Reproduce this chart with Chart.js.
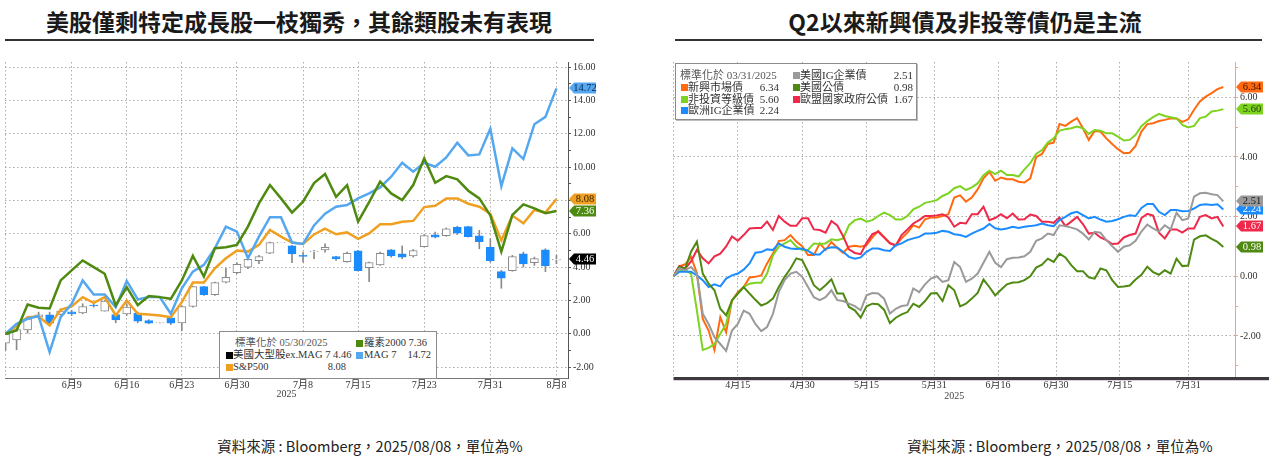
<!DOCTYPE html>
<html lang="zh-Hant">
<head>
<meta charset="utf-8">
<title>美股與債市表現</title>
<script src="https://cdn.jsdelivr.net/npm/chart.js@4.4.1/dist/chart.umd.min.js"></script>
<style>
  html, body { margin: 0; padding: 0; background: #fff; }
  body { position: relative; width: 1269px; height: 456px; overflow: hidden;
         font-family: "Noto Sans CJK TC", "Noto Sans", sans-serif; color: #222; }
  .title { position: absolute; top: 6px; font-size: 23px; font-weight: 700; color: #1a1a1a;
           white-space: nowrap; transform: translateX(-50%); line-height: 30px; }
  .rule { position: absolute; top: 39px; height: 1.5px; background: #333; }
  .src { position: absolute; top: 436px; font-size: 14.5px; color: #222; white-space: nowrap;
         transform: translateX(-50%); line-height: 20px; }
  canvas { position: absolute; }
  .lg { position: absolute; background: #fff; border: 1px solid #8c8c8c; box-sizing: border-box; z-index: 2;
        font-family: "Liberation Serif", "Noto Sans CJK TC", serif; font-size: 11px; color: #333; }
  .lg span { position: absolute; white-space: nowrap; line-height: 12px; }
  .lg i { position: absolute; width: 7px; height: 7px; }
</style>
</head>
<body>

<div class="title" style="left:299px">美股僅剩特定成長股一枝獨秀，其餘類股未有表現</div>
<div class="rule" style="left:5px;width:589px"></div>
<div class="title" style="left:965px">Q2以來新興債及非投等債仍是主流</div>
<div class="rule" style="left:675px;width:587px"></div>

<canvas id="cl" width="640" height="360" style="left:0;top:50px"></canvas>
<canvas id="cr" width="629" height="360" style="left:640px;top:50px"></canvas>

<div class="lg" style="left:219px;top:331px;width:218px;height:48px;font-size:10.5px">
  <span style="left:15px;top:5px;color:#555">標準化於 05/30/2025</span>
  <i style="left:136px;top:8px;background:#4f8a10"></i><span style="left:144px;top:5px">羅素2000 7.36</span>
  <i style="left:6px;top:20px;background:#000"></i><span style="left:13px;top:17px">美國大型股ex.MAG 7 4.46</span>
  <i style="left:136px;top:20px;background:#55a8f0"></i><span style="left:144px;top:17px">MAG 7</span>
  <span style="left:180px;top:17px;width:31px;text-align:right">14.72</span>
  <i style="left:6px;top:32px;background:#f0a020"></i><span style="left:13px;top:29px">S&amp;P500</span>
  <span style="left:96px;top:29px;width:30px;text-align:right">8.08</span>
</div>

<div class="lg" style="left:675px;top:63px;width:242px;height:57px;box-shadow:1px 1px 0 #bdbdbd">
  <span style="left:4px;top:5px;color:#555">標準化於 03/31/2025</span>
  <i style="left:117px;top:8px;background:#9a9a9a"></i><span style="left:124px;top:5px">美國IG企業債</span>
  <span style="left:200px;top:5px;width:37px;text-align:right">2.51</span>
  <i style="left:5px;top:20px;background:#ff6a10"></i><span style="left:12px;top:17px">新興市場債</span>
  <span style="left:70px;top:17px;width:33px;text-align:right">6.34</span>
  <i style="left:117px;top:20px;background:#4e8a12"></i><span style="left:124px;top:17px">美國公債</span>
  <span style="left:200px;top:17px;width:37px;text-align:right">0.98</span>
  <i style="left:5px;top:32px;background:#7ed321"></i><span style="left:12px;top:29px">非投資等級債</span>
  <span style="left:70px;top:29px;width:33px;text-align:right">5.60</span>
  <i style="left:117px;top:32px;background:#f0284a"></i><span style="left:124px;top:29px">歐盟國家政府公債</span>
  <span style="left:200px;top:29px;width:37px;text-align:right">1.67</span>
  <i style="left:5px;top:43px;background:#1a8cff"></i><span style="left:12px;top:40px">歐洲IG企業債</span>
  <span style="left:70px;top:40px;width:33px;text-align:right">2.24</span>
</div>

<div class="src" style="left:370px">資料來源 : Bloomberg，2025/08/08，單位為%</div>
<div class="src" style="left:1060px">資料來源 : Bloomberg，2025/08/08，單位為%</div>

<script>
// ---------- 左圖：美股，標準化於 05/30/2025，x = 交易日序號 (5/30 = 0 ... 8/8 = 50) ----------
const xTickPosL = [0, 6, 11, 16, 21, 27, 32, 38, 44, 50];
const xTickLabelsL = ['', '6月9', '6月16', '6月23', '6月30', '7月8', '7月15', '7月23', '7月31', '8月8'];
const yTicksL = [-2, -1, 0, 1, 2, 3, 4, 5, 6, 7, 8, 9, 10, 11, 12, 13, 14, 15, 16];

const russell2000 = [0, 0.2, 1.76, 1.56, 1.52, 3.2, 3.8, 4.4, 4.0, 3.6, 1.7, 2.8, 1.72, 2.26, 2.2, 2.1,
  3.2, 4.67, 3.43, 5.13, 5.19, 5.33, 6.43, 7.82, 8.92, 8.12, 7.27, 7.92, 9.04, 9.58, 8.22, 8.92, 6.73,
  7.9, 9.12, 8.42, 8.02, 8.92, 10.52, 9.06, 9.46, 9.26, 8.58, 8.12, 7.1, 4.93, 7.13, 7.76, 7.52, 7.23, 7.36];
const mag7 = [0, 0.6, 0.9, 1.06, -1.1, 1.0, 1.8, 3.2, 2.36, 2.36, 1.6, 3.16, 2.06, 2.2, 2.2, 1.2,
  2.73, 3.73, 4.13, 5.13, 6.43, 6.13, 4.53, 5.83, 6.99, 6.99, 5.47, 5.39, 6.5, 7.2, 7.62, 7.72, 8.12,
  8.42, 8.78, 9.42, 10.26, 9.72, 10.26, 10.02, 10.58, 11.46, 10.7, 10.76, 12.3, 8.86, 11.12, 10.48, 12.57, 13.01, 14.72];
const sp500 = [0, 0.45, 1.0, 1.04, 0.5, 1.44, 1.64, 2.2, 1.86, 2.2, 1.1, 2.0, 1.2, 1.16, 1.1, 1.0,
  1.9, 3.07, 3.07, 3.93, 4.53, 4.99, 4.93, 5.33, 6.23, 5.83, 5.47, 5.39, 5.96, 6.3, 5.97, 6.08, 5.7,
  6.02, 6.57, 6.57, 6.72, 6.77, 7.6, 7.68, 8.12, 8.12, 7.8, 7.62, 7.2, 5.6, 7.09, 6.63, 7.43, 7.27, 8.08];

// 美國大型股ex.MAG 7 K 線
const exOpen = [-0.56, -0.36, 0.24, 1.0, 1.14, 1.16, 1.32, 1.26, 1.72, 1.36, 1.16, 1.2, 1.24, 0.8, 0.65, 0.96,
  0.66, 1.64, 2.83, 2.34, 3.09, 3.67, 3.99, 4.39, 4.83, 5.46, 5.27, 4.7, 4.92, 5.03, 4.63, 4.33, 4.97,
  3.97, 4.13, 5.03, 4.79, 4.67, 5.23, 5.93, 5.89, 6.39, 6.43, 5.87, 5.19, 3.73, 3.79, 4.79, 4.27, 5.03, 4.43];
const exClose = [0, 0.26, 0.9, 1.14, 0.64, 1.36, 1.2, 1.64, 1.68, 1.96, 0.84, 1.6, 0.76, 0.64, 0.67, 0.64,
  1.64, 2.83, 2.34, 3.07, 3.39, 4.17, 4.47, 4.63, 5.47, 5.48, 4.79, 4.64, 4.96, 5.19, 4.49, 4.83, 3.79,
  4.27, 4.83, 4.67, 4.59, 4.99, 5.89, 5.79, 6.29, 6.03, 5.83, 5.53, 4.39, 3.33, 4.63, 4.19, 4.51, 4.07, 4.46];
const exLow = [-1.0, -0.96, 0.04, 0.9, 0.6, 1.1, 1.1, 1.2, 1.6, 1.36, 0.66, 1.1, 0.66, 0.6, 0.65, 0.55,
  0.2, 1.6, 2.3, 2.3, 3.05, 3.6, 3.9, 4.2, 4.8, 5.46, 4.27, 4.3, 4.5, 4.9, 4.4, 4.3, 3.75,
  3.13, 4.1, 4.6, 4.5, 4.6, 5.2, 5.75, 5.85, 5.95, 5.8, 5.1, 4.3, 2.73, 3.75, 4.0, 4.1, 3.73, 4.2];
const exHigh = [0.05, 0.3, 0.95, 1.3, 1.3, 1.5, 1.4, 1.8, 1.8, 2.0, 1.2, 1.8, 1.3, 0.85, 0.67, 1.0,
  1.7, 2.85, 2.85, 3.1, 3.93, 4.25, 4.5, 4.7, 5.5, 5.48, 5.3, 4.9, 5.0, 5.4, 4.65, 4.9, 5.0,
  4.3, 4.9, 5.05, 5.27, 5.05, 5.95, 6.1, 6.35, 6.45, 6.45, 6.2, 5.7, 3.8, 4.7, 4.9, 4.6, 5.1, 4.7];

// ---------- 右圖：債市，標準化於 03/31/2025，x = 工作日序號 (3/31 = 0 ... 8/8 = 94) ----------
const xTickPosR = [0, 11, 22, 33, 44.6, 55.5, 65.4, 76.3, 88];
const xTickLabelsR = ['', '4月15', '4月30', '5月15', '5月31', '6月16', '6月30', '7月15', '7月31'];
const yTicksR = [-3, -2, -1, 0, 1, 2, 3, 4, 5, 6, 7];

const emDebt = [0, 0.33, 0.4, 0.65, 0.1, -1.43, -1.82, -2.47, -1.37, -1.88,
  -0.81, -0.53, -0.36, -0.04, -0.02, 0.03, 0.43, 0.76, 1.18, 1.21,
  1.38, 1.16, 1.01, 0.71, 0.71, 1.1, 0.88, 1.15, 0.95, 0.78,
  0.99, 1.02, 0.99, 1.04, 1.3, 1.52, 1.32, 1.12, 1.04, 1.27,
  1.46, 1.71, 1.63, 1.91, 1.97, 1.97, 2.02, 2.08, 2.64, 2.71,
  2.5, 2.64, 2.91, 3.28, 3.5, 3.2, 3.31, 3.25, 3.25, 3.17,
  3.14, 3.28, 3.99, 4.1, 4.43, 4.48, 5.1, 5.04, 5.18, 5.3,
  4.96, 4.57, 4.87, 4.85, 4.62, 4.43, 4.26, 4.12, 4.14, 4.37,
  4.85, 5.1, 5.13, 5.2, 5.24, 5.29, 5.29, 5.17, 5.26, 5.58,
  5.86, 6.02, 6.14, 6.27, 6.34];
const hyDebt = [0, 0.17, 0.2, 0.09, -1.15, -2.47, -2.4, -2.27, -1.93, -1.6,
  -0.8, -0.58, -0.36, -0.25, -0.22, -0.22, 0.09, 0.7, 0.99, 1.1,
  1.21, 0.99, 0.88, 0.88, 1.1, 1.08, 1.1, 1.24, 1.21, 1.27,
  1.71, 1.88, 1.93, 1.83, 1.88, 2.02, 2.13, 2.05, 1.9, 1.9,
  2.02, 2.24, 2.33, 2.46, 2.5, 2.55, 2.69, 2.78, 2.95, 3.02,
  2.89, 2.98, 3.11, 3.39, 3.54, 3.42, 3.54, 3.39, 3.39, 3.34,
  3.58, 3.79, 4.1, 4.23, 4.48, 4.62, 4.88, 4.93, 4.96, 5.02,
  4.96, 4.77, 4.9, 4.88, 4.79, 4.79, 4.68, 4.55, 4.57, 4.74,
  5.03, 5.2, 5.33, 5.44, 5.37, 5.33, 5.29, 5.07, 4.99, 5.04,
  5.3, 5.35, 5.52, 5.55, 5.6];
const usIgDebt = [0, 0.26, 0.2, 0.31, 0.09, -1.26, -1.6, -2.04, -2.27, -2.5,
  -1.82, -1.6, -1.15, -1.26, -1.6, -1.84, -1.7, -1.26, -0.53, -0.13,
  0.09, 0.15, -0.02, -0.36, -0.7, -0.8, -0.7, -0.47, -0.8, -0.83,
  -0.92, -1.0, -1.14, -0.64, -0.56, -0.58, -0.75, -1.25, -1.09, -1.0,
  -0.97, -0.41, -0.53, -0.27, -0.08, 0.0, -0.19, -0.13, 0.48, 0.31,
  -0.19, -0.08, 0.09, 0.45, 0.82, 0.45, 0.31, 0.57, 0.62, 0.63,
  0.67, 0.82, 1.19, 1.27, 1.43, 1.38, 1.71, 1.68, 1.63, 1.57,
  1.43, 1.23, 1.49, 1.46, 1.21, 1.01, 0.82, 0.99, 1.04, 1.19,
  1.5, 1.73, 1.6, 1.5, 1.71, 1.57, 2.13, 1.88, 1.94, 2.67,
  2.78, 2.8, 2.75, 2.72, 2.51];
const usTreasury = [0, 0.31, 0.26, 0.82, 1.16, 0.09, -0.25, -0.47, -1.09, -1.31,
  -0.81, -0.58, -0.36, -0.58, -0.79, -0.98, -0.9, -0.75, -0.36, -0.02,
  0.26, 0.6, 0.54, 0.15, -0.3, -0.47, -0.3, -0.1, -0.58, -0.58,
  -1.03, -1.14, -1.39, -1.01, -0.92, -0.94, -1.12, -1.57, -1.39, -1.28,
  -1.2, -0.92, -1.03, -0.83, -0.58, -0.56, -0.83, -0.3, -0.47, -1.01,
  -0.92, -0.75, -0.56, -0.11, -0.36, -0.64, -0.45, -0.27, -0.21, -0.2,
  -0.13, 0, 0.29, 0.39, 0.59, 0.48, 0.76, 0.63, 0.37, 0.17,
  0.17, -0.04, -0.08, 0.26, 0.2, -0.13, -0.36, -0.34, -0.31, -0.11,
  0.05, 0.32, 0.14, 0.05, 0.2, 0.09, 0.59, 0.34, 0.36, 1.23,
  1.34, 1.37, 1.25, 1.15, 0.98];
const euGovDebt = [0, 0.34, 0.26, 0.5, 0.88, 0.6, 0.43, 0.67, 0.76, 1.0,
  1.33, 1.19, 1.38, 1.6, 1.62, 1.62, 1.83, 1.55, 2.02, 1.83,
  1.69, 1.69, 1.94, 1.94, 1.57, 1.55, 1.46, 1.85, 1.7, 1.34,
  0.9, 0.78, 0.74, 1.12, 1.41, 1.49, 1.3, 1.1, 1.03, 1.38,
  1.57, 1.77, 1.88, 2.02, 2.02, 2.04, 2.08, 1.97, 1.66, 1.79,
  1.77, 2.08, 2.08, 2.33, 1.88, 1.95, 2.08, 1.94, 2.1, 1.9,
  1.91, 2.07, 2.02, 1.83, 1.83, 1.79, 1.97, 1.68, 1.83, 1.99,
  1.75, 1.43, 1.46, 1.3, 1.21, 1.08, 1.1, 1.3, 1.38, 1.43,
  1.95, 2.09, 2.03, 1.46, 1.27, 1.57, 1.57, 1.46, 1.6, 1.6,
  1.99, 2.05, 1.94, 1.99, 1.67];
const euIgDebt = [0, 0.15, 0.15, 0.15, 0.03, -0.13, -0.36, -0.27, -0.34, -0.08,
  0.03, 0.09, 0.22, 0.43, 0.79, 0.81, 0.9, 0.88, 1.1, 0.99,
  0.93, 0.91, 0.93, 0.85, 0.73, 0.73, 0.92, 0.97, 0.96, 0.82,
  0.65, 0.59, 0.63, 0.82, 0.93, 0.93, 0.87, 0.85, 1.04, 1.1,
  1.21, 1.27, 1.32, 1.43, 1.43, 1.46, 1.52, 1.49, 1.41, 1.38,
  1.32, 1.43, 1.52, 1.6, 1.75, 1.61, 1.57, 1.6, 1.66, 1.62,
  1.66, 1.68, 1.71, 1.77, 1.71, 1.68, 1.88, 1.99, 2.11, 2.16,
  2.05, 1.94, 1.99, 1.9, 1.83, 1.85, 1.91, 1.99, 2.04, 2.02,
  2.29, 2.42, 2.42, 2.16, 2.05, 2.22, 2.22, 2.18, 2.19, 2.27,
  2.39, 2.41, 2.39, 2.41, 2.24];

// ---------- 共用 ----------
const AXIS_FONT = { family: '"Liberation Serif", "Noto Sans CJK TC", serif', size: 10 };
const DOT = '#ababab';
const UP = '#ffffff', DOWN = '#1a8cff';

const pts = arr => arr.map((v, i) => ({ x: i, y: v }));
const last = arr => arr[arr.length - 1];

function line(label, data, color, width) {
  return { label, data: pts(data), borderColor: color, borderWidth: width,
           pointRadius: 0, tension: 0, fill: false, order: 0 };
}

// 右側數值標籤 (Bloomberg 式箭頭框)
function tagPlugin(items) {
  return {
    id: 'valueTags',
    afterDraw(chart) {
      const { ctx, chartArea, scales } = chart;
      ctx.save();
      ctx.font = '10.5px "Liberation Serif", serif';
      ctx.textAlign = 'center';
      ctx.textBaseline = 'middle';
      items.forEach(t => {
        const py = Math.round(scales.y.getPixelForValue(t.value));
        const x0 = chartArea.right + 1, w = 27, h = 11, n = 5;
        ctx.beginPath();
        ctx.moveTo(x0, py);
        ctx.lineTo(x0 + n, py - h / 2);
        ctx.lineTo(x0 + w, py - h / 2);
        ctx.lineTo(x0 + w, py + h / 2);
        ctx.lineTo(x0 + n, py + h / 2);
        ctx.closePath();
        ctx.fillStyle = t.bg;
        ctx.fill();
        ctx.fillStyle = t.fg;
        ctx.fillText(t.value.toFixed(2), x0 + n + (w - n) / 2, py + 0.5);
      });
      ctx.restore();
    }
  };
}

function xAxis(min, max, pos, labels, titlePad, border) {
  return {
    type: 'linear', min, max, offset: false,
    afterBuildTicks: s => { s.ticks = pos.map(v => ({ value: v })); },
    afterFit: s => { s.height = 32; },
    ticks: { autoSkip: false, maxRotation: 0, padding: 1, color: '#333', font: AXIS_FONT,
             callback: (v, i) => labels[i] },
    grid: { color: DOT, lineWidth: 1, drawTicks: false, offset: false },
    border: Object.assign({ dash: [1.5, 2.5] }, border),
    title: { display: true, text: '2025', color: '#444', font: AXIS_FONT,
             padding: { top: 0, bottom: titlePad } }
  };
}

function yAxis(min, max, list, width, axisColor) {
  return {
    position: 'right', min, max,
    afterBuildTicks: s => { s.ticks = list.map(v => ({ value: v })); },
    afterFit: s => { s.width = width; },
    ticks: { padding: 2, color: '#333', font: AXIS_FONT,
             callback: v => (v % 2 === 0 ? v.toFixed(2) : '') },
    grid: { color: c => (c.tick && c.tick.value % 2 === 0 ? DOT : 'rgba(0,0,0,0)'),
            tickColor: axisColor, tickLength: 3, lineWidth: 1 },
    border: { color: axisColor, width: 1, dash: [1.5, 2.5] }
  };
}

// ---------- 左圖 ----------
new Chart(document.getElementById('cl'), {
  type: 'line',
  data: {
    datasets: [
      line('羅素2000', russell2000, '#4f8a10', 2.5),
      line('MAG 7', mag7, '#55a8f0', 2.5),
      line('S&P500', sp500, '#f0a020', 2.5),
      {
        type: 'bar', label: '美國大型股ex.MAG 7',
        data: exOpen.map((o, i) => ({ x: i, y: [o, exClose[i]] })),
        backgroundColor: exOpen.map((o, i) => (exClose[i] >= o ? UP : DOWN)),
        borderColor: exOpen.map((o, i) => (exClose[i] >= o ? '#8a8a8a' : DOWN)),
        borderWidth: 1, borderSkipped: false, barThickness: 8, grouped: false, order: 1
      },
      {
        type: 'bar', label: 'wick',
        data: exLow.map((l, i) => ({ x: i, y: [l, exHigh[i]] })),
        backgroundColor: '#8a8a8a', barThickness: 1, grouped: false, order: 2
      }
    ]
  },
  options: {
    responsive: false,
    animation: false,
    layout: { padding: { left: 5, top: 12, right: 0, bottom: 0 } },
    plugins: { legend: { display: false }, tooltip: { enabled: false } },
    scales: {
      x: xAxis(-0.05, 51.05, xTickPosL, xTickLabelsL, 10, { color: '#777', width: 1 }),
      y: yAxis(-2.65, 16.3, yTicksL, 72, '#555')
    }
  },
  plugins: [tagPlugin([
    { value: last(mag7), bg: '#55a8f0', fg: '#0b2a55' },
    { value: last(sp500), bg: '#f0a020', fg: '#3a2000' },
    { value: last(russell2000), bg: '#4f8a10', fg: '#ffffff' },
    { value: last(exClose), bg: '#000000', fg: '#ffffff' }
  ])]
});

// ---------- 右圖 ----------
const bottomBand = {
  id: 'bottomBand',
  afterDraw(chart) {
    const { ctx, chartArea } = chart;
    ctx.save();
    ctx.fillStyle = '#3b3b3b';
    ctx.fillRect(chartArea.left, chartArea.bottom - 1, chart.width - chartArea.left, 3);
    ctx.fillStyle = '#e2cde8';
    ctx.fillRect(chartArea.left, chartArea.bottom + 2, chart.width - chartArea.left, 1);
    ctx.restore();
  }
};

new Chart(document.getElementById('cr'), {
  type: 'line',
  data: {
    datasets: [
      line('美國IG企業債', usIgDebt, '#9a9a9a', 2),
      line('美國公債', usTreasury, '#4e8a12', 2),
      line('歐洲IG企業債', euIgDebt, '#1a8cff', 2),
      line('歐盟國家政府公債', euGovDebt, '#f0284a', 2),
      line('非投資等級債', hyDebt, '#7ed321', 2),
      line('新興市場債', emDebt, '#ff6a10', 2)
    ]
  },
  options: {
    responsive: false,
    animation: false,
    layout: { padding: { left: 33.5, top: 12, right: 0, bottom: 0 } },
    plugins: { legend: { display: false }, tooltip: { enabled: false } },
    scales: {
      x: xAxis(0, 96, xTickPosR, xTickLabelsR, 8, { color: '#3b3b3b', width: 0 }),
      y: yAxis(-3.41, 7.18, yTicksR, 34, '#f2a57a')
    }
  },
  plugins: [bottomBand, tagPlugin([
    { value: last(emDebt), bg: '#ff6a10', fg: '#3a1000' },
    { value: last(hyDebt), bg: '#7ed321', fg: '#1d3a00' },
    { value: last(euIgDebt), bg: '#1a8cff', fg: '#ffffff' },
    { value: last(usIgDebt), bg: '#9a9a9a', fg: '#1a1a1a' },
    { value: last(euGovDebt), bg: '#f0284a', fg: '#ffffff' },
    { value: last(usTreasury), bg: '#4e8a12', fg: '#ffffff' }
  ])]
});
</script>
</body>
</html>
